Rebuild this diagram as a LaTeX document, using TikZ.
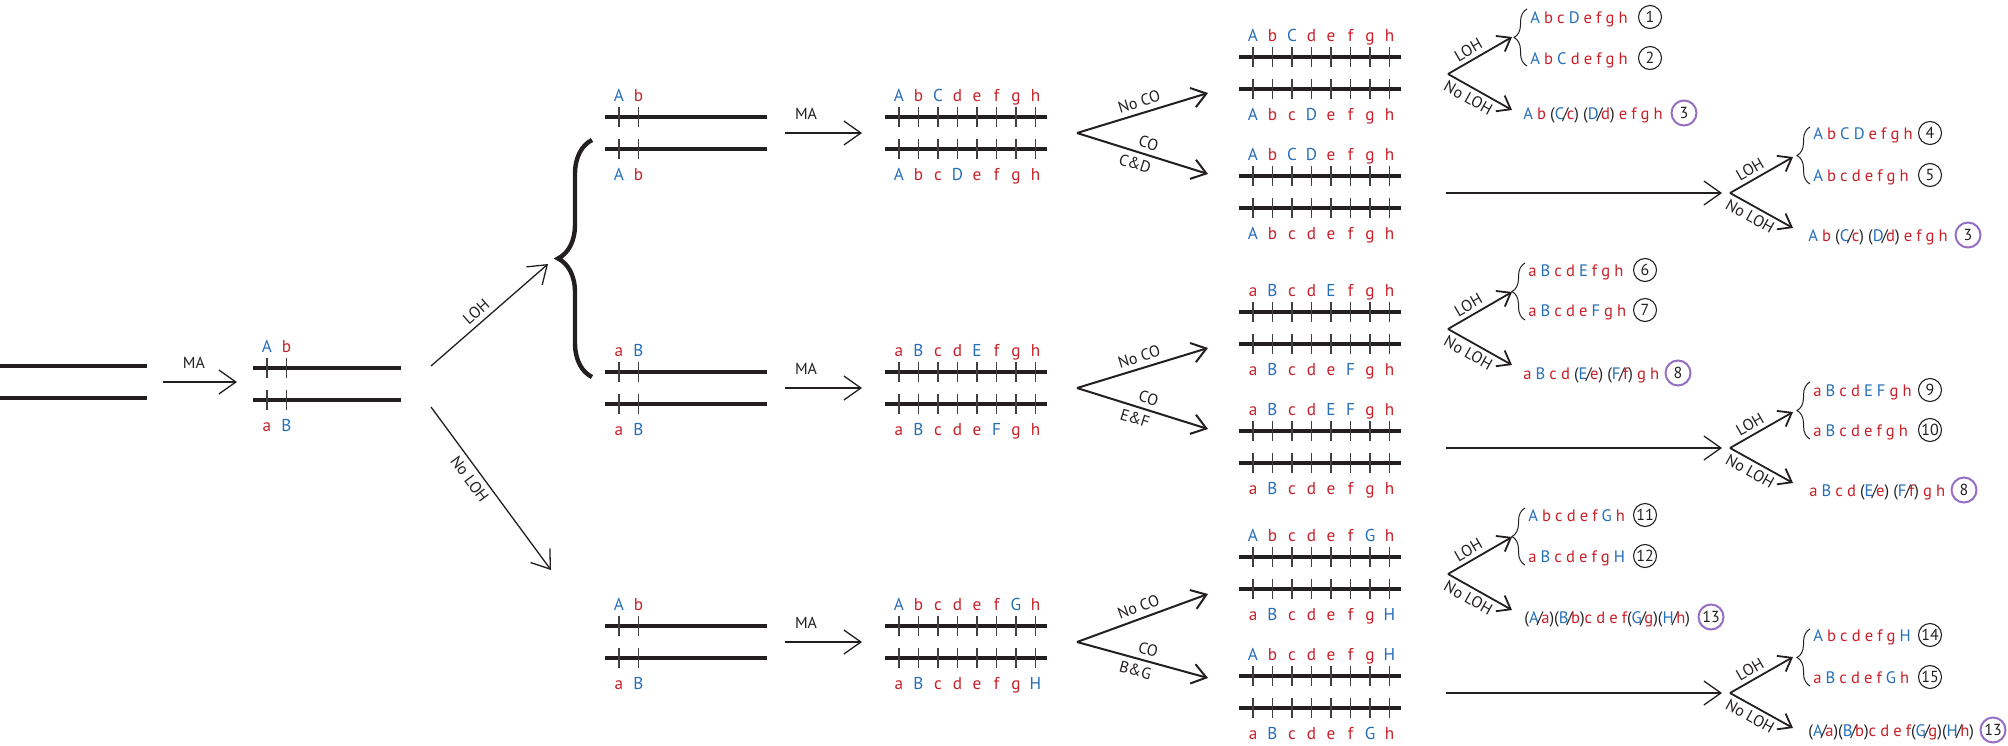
\documentclass[tikz,border=0pt]{standalone}
\usepackage{fontspec}
\setmainfont{PT Sans}
\usetikzlibrary{arrows.meta,decorations.pathreplacing}
\definecolor{myblue}{RGB}{36,110,186}
\definecolor{myred}{RGB}{200,32,40}
\definecolor{mypurple}{RGB}{150,110,195}
\definecolor{ink}{RGB}{35,31,32}
\newcommand\BL[1]{\textcolor{myblue}{#1}}
\newcommand\RD[1]{\textcolor{myred}{#1}}
\newcommand\SL[2]{\BL{#1}\kern-0.1em\textcolor{ink}{/}\kern-0.1em\RD{#2}}
\newcommand\resfont{\fontsize{8.3}{10}\selectfont\spaceskip 0.245em\relax}
\tikzset{
 chr/.style={line width=1.6pt, draw=ink},
 tck/.style={line width=0.6pt, draw=black!75},
 lab/.style={anchor=base, inner sep=0pt, font=\fontsize{8.6}{10}\selectfont},
 res/.style={anchor=base west, inner sep=0pt, font=\resfont, text=ink},
 tag/.style={circle, draw=ink, line width=0.55pt, minimum size=11.5pt, inner sep=0pt, font=\fontsize{8}{9}\selectfont, text=ink},
 ptag/.style={tag, draw=mypurple, line width=1pt, minimum size=12.5pt},
 arr/.style={-{Straight Barb[length=8.5pt,width=12pt]}, line width=0.65pt, draw=ink},
 farr/.style={-{Straight Barb[length=7pt,width=10pt]}, line width=1pt, draw=ink},
 sarr/.style={-{Straight Barb[length=6pt,width=9pt]}, line width=0.9pt, draw=ink},
 small/.style={font=\fontsize{8}{9}\selectfont, inner sep=1.5pt, text=ink},
 sbrace/.style={decorate, decoration={brace, amplitude=6.5pt}, line width=0.5pt, draw=ink},
}
% #1 name, #2 x, #3 y of upper line, #4 length, #5 top labels, #6 bottom labels
\newcommand\chromo[6]{%
  \coordinate (#1-ul) at (#2,#3);
  \coordinate (#1-ur) at ({#2+#4},#3);
  \coordinate (#1-ll) at (#2,{#3+32});
  \coordinate (#1-lr) at ({#2+#4},{#3+32});
  \draw[chr] (#1-ul) -- (#1-ur);
  \draw[chr] (#1-ll) -- (#1-lr);
  \foreach \l/\c [count=\i from 0] in {#5} {
    \draw[tck] ({#2+14+19.5*\i},{#3-10}) -- ++(0,20);
    \node[lab,text=\c] (#1-t\i) at ({#2+14+19.5*\i},{#3-16}) {\l};
  }
  \foreach \l/\c [count=\i from 0] in {#6} {
    \draw[tck] ({#2+14+19.5*\i},{#3+22}) -- ++(0,20);
    \node[lab,text=\c] (#1-b\i) at ({#2+14+19.5*\i},{#3+63}) {\l};
  }
}
\begin{document}
\begin{tikzpicture}[x=0.5pt,y=-0.5pt]
\useasboundingbox (0,0) rectangle (2008,745);
%% start
\coordinate (s0a) at (0,366); \coordinate (s0b) at (147,366);
\coordinate (s0c) at (0,398); \coordinate (s0d) at (147,398);
\draw[chr] (s0a) -- (s0b); \draw[chr] (s0c) -- (s0d);
\coordinate (ma0s) at (163,382); \coordinate (ma0e) at (237,382);
\draw[arr] (ma0s) -- (ma0e);
\node[small] (ma0) at (194,363) {MA};
\chromo{p0}{253}{368}{148}{A/myblue,b/myred}{a/myred,B/myblue}
%% LOH / No LOH
\coordinate (L0) at (431,366); \coordinate (L1) at (548,264);
\draw[arr] (L0) -- node[small,sloped,above=1pt,pos=.45] (lloh) {LOH} (L1);
\coordinate (N0) at (431,407); \coordinate (N1) at (551,570);
\draw[arr] (N0) -- node[small,sloped,below=1pt,pos=.4] (lnloh) {No LOH} (N1);
\coordinate (bb1) at (592,377); \coordinate (bb2) at (592,140);
\draw[line width=2.2pt, draw=ink, decorate, decoration={brace, amplitude=17pt}] (bb1) -- (bb2);

%% ================= ROW 1
\chromo{p1}{605}{117}{162}{A/myblue,b/myred}{A/myblue,b/myred}
\coordinate (ma1s) at (785,133); \coordinate (ma1e) at (862,133);
\draw[arr] (ma1s) -- (ma1e); \node[small] (ma1) at (806,114) {MA};
\chromo{m1}{885}{117}{162}{A/myblue,b/myred,C/myblue,d/myred,e/myred,f/myred,g/myred,h/myred}{A/myblue,b/myred,c/myred,D/myblue,e/myred,f/myred,g/myred,h/myred}
\coordinate (f1) at (1077,133); \coordinate (f1u) at (1208,93); \coordinate (f1d) at (1208,174);
\draw[farr] (f1) -- node[small,sloped,above=1pt,pos=.5] (nco1) {No CO} (f1u);
\draw[farr] (f1) -- node[small,sloped,above=1pt,pos=.52] (co1) {CO} node[small,sloped,below=1pt,pos=.47] (cd1) {C\&D} (f1d);
\chromo{n1}{1239}{57}{162}{A/myblue,b/myred,C/myblue,d/myred,e/myred,f/myred,g/myred,h/myred}{A/myblue,b/myred,c/myred,D/myblue,e/myred,f/myred,g/myred,h/myred}
\chromo{c1}{1239}{176}{162}{A/myblue,b/myred,C/myblue,D/myblue,e/myred,f/myred,g/myred,h/myred}{A/myblue,b/myred,c/myred,d/myred,e/myred,f/myred,g/myred,h/myred}
\coordinate (g1) at (1448,74); \coordinate (g1u) at (1512,37); \coordinate (g1d) at (1512,110);
\draw[sarr] (g1) -- node[small,sloped,above=0.5pt,pos=.4] (gl1) {LOH} (g1u);
\draw[sarr] (g1) -- node[small,sloped,below=0.5pt,pos=.4] (gn1) {No LOH} (g1d);
\coordinate (br1a) at (1527,66); \coordinate (br1b) at (1527,9);
\draw[sbrace] (br1a) -- (br1b);
\node[res] (r1) at (1530,23) {\BL{A} \RD{b c} \BL{D} \RD{e f g h}};
\node[tag] (k1) at (1650,17) {1};
\node[res] (r2) at (1530,64) {\BL{A} \RD{b} \BL{C} \RD{d e f g h}};
\node[tag] (k2) at (1650,58) {2};
\node[res] (r3) at (1523,119) {\BL{A} \RD{b} (\SL{C}{c}) (\SL{D}{d}) \RD{e f g h}};
\node[ptag] (k3) at (1684,113) {3};
\coordinate (h1s) at (1446,193); \coordinate (h1e) at (1722,193);
\draw[arr] (h1s) -- (h1e);
\coordinate (q1) at (1730,193); \coordinate (q1u) at (1793,157); \coordinate (q1d) at (1793,228);
\draw[sarr] (q1) -- node[small,sloped,above=0.5pt,pos=.4] (ql1) {LOH} (q1u);
\draw[sarr] (q1) -- node[small,sloped,below=0.5pt,pos=.4] (qn1) {No LOH} (q1d);
\coordinate (bq1a) at (1810,184); \coordinate (bq1b) at (1810,127);
\draw[sbrace] (bq1a) -- (bq1b);
\node[res] (r4) at (1813,139) {\BL{A} \RD{b} \BL{C D} \RD{e f g h}};
\node[tag] (k4) at (1930,133) {4};
\node[res] (r5) at (1813,181) {\BL{A} \RD{b c d e f g h}};
\node[tag] (k5) at (1930,175) {5};
\node[res] (r3b) at (1808,241) {\BL{A} \RD{b} (\SL{C}{c}) (\SL{D}{d}) \RD{e f g h}};
\node[ptag] (k3b) at (1968,235) {3};

%% ================= ROW 2
\chromo{p2}{605}{372}{162}{a/myred,B/myblue}{a/myred,B/myblue}
\coordinate (ma2s) at (785,388); \coordinate (ma2e) at (862,388);
\draw[arr] (ma2s) -- (ma2e); \node[small] (ma2) at (806,369) {MA};
\chromo{m2}{885}{372}{162}{a/myred,B/myblue,c/myred,d/myred,E/myblue,f/myred,g/myred,h/myred}{a/myred,B/myblue,c/myred,d/myred,e/myred,F/myblue,g/myred,h/myred}
\coordinate (f2) at (1077,388); \coordinate (f2u) at (1208,348); \coordinate (f2d) at (1208,429);
\draw[farr] (f2) -- node[small,sloped,above=1pt,pos=.5] (nco2) {No CO} (f2u);
\draw[farr] (f2) -- node[small,sloped,above=1pt,pos=.52] (co2) {CO} node[small,sloped,below=1pt,pos=.47] (cd2) {E\&F} (f2d);
\chromo{n2}{1239}{312}{162}{a/myred,B/myblue,c/myred,d/myred,E/myblue,f/myred,g/myred,h/myred}{a/myred,B/myblue,c/myred,d/myred,e/myred,F/myblue,g/myred,h/myred}
\chromo{c2}{1239}{431}{162}{a/myred,B/myblue,c/myred,d/myred,E/myblue,F/myblue,g/myred,h/myred}{a/myred,B/myblue,c/myred,d/myred,e/myred,f/myred,g/myred,h/myred}
\coordinate (g2) at (1448,329); \coordinate (g2u) at (1512,292); \coordinate (g2d) at (1512,365);
\draw[sarr] (g2) -- node[small,sloped,above=0.5pt,pos=.4] (gl2) {LOH} (g2u);
\draw[sarr] (g2) -- node[small,sloped,below=0.5pt,pos=.4] (gn2) {No LOH} (g2d);
\coordinate (br2a) at (1525,320); \coordinate (br2b) at (1525,263);
\draw[sbrace] (br2a) -- (br2b);
\node[res] (r6) at (1528,276) {\RD{a} \BL{B} \RD{c d} \BL{E} \RD{f g h}};
\node[tag] (k6) at (1645,270) {6};
\node[res] (r7) at (1528,316) {\RD{a} \BL{B} \RD{c d e} \BL{F} \RD{g h}};
\node[tag] (k7) at (1645,310) {7};
\node[res] (r8) at (1523,379) {\RD{a} \BL{B} \RD{c d} (\SL{E}{e}) (\SL{F}{f}) \RD{g h}};
\node[ptag] (k8) at (1678,373) {8};
\coordinate (h2s) at (1446,448); \coordinate (h2e) at (1722,448);
\draw[arr] (h2s) -- (h2e);
\coordinate (q2) at (1730,448); \coordinate (q2u) at (1793,412); \coordinate (q2d) at (1793,483);
\draw[sarr] (q2) -- node[small,sloped,above=0.5pt,pos=.4] (ql2) {LOH} (q2u);
\draw[sarr] (q2) -- node[small,sloped,below=0.5pt,pos=.4] (qn2) {No LOH} (q2d);
\coordinate (bq2a) at (1810,439); \coordinate (bq2b) at (1810,382);
\draw[sbrace] (bq2a) -- (bq2b);
\node[res] (r9) at (1813,396) {\RD{a} \BL{B} \RD{c d} \BL{E F} \RD{g h}};
\node[tag] (k9) at (1930,390) {9};
\node[res] (r10) at (1813,436) {\RD{a} \BL{B} \RD{c d e f g h}};
\node[tag] (k10) at (1930,430) {10};
\node[res] (r8b) at (1809,496) {\RD{a} \BL{B} \RD{c d} (\SL{E}{e}) (\SL{F}{f}) \RD{g h}};
\node[ptag] (k8b) at (1964,490) {8};

%% ================= ROW 3
\chromo{p3}{605}{626}{162}{A/myblue,b/myred}{a/myred,B/myblue}
\coordinate (ma3s) at (785,642); \coordinate (ma3e) at (862,642);
\draw[arr] (ma3s) -- (ma3e); \node[small] (ma3) at (806,623) {MA};
\chromo{m3}{885}{626}{162}{A/myblue,b/myred,c/myred,d/myred,e/myred,f/myred,G/myblue,h/myred}{a/myred,B/myblue,c/myred,d/myred,e/myred,f/myred,g/myred,H/myblue}
\coordinate (f3) at (1077,642); \coordinate (f3u) at (1208,594); \coordinate (f3d) at (1208,678);
\draw[farr] (f3) -- node[small,sloped,above=1pt,pos=.5] (nco3) {No CO} (f3u);
\draw[farr] (f3) -- node[small,sloped,above=1pt,pos=.52] (co3) {CO} node[small,sloped,below=1pt,pos=.47] (cd3) {B\&G} (f3d);
\chromo{n3}{1239}{557}{162}{A/myblue,b/myred,c/myred,d/myred,e/myred,f/myred,G/myblue,h/myred}{a/myred,B/myblue,c/myred,d/myred,e/myred,f/myred,g/myred,H/myblue}
\chromo{c3}{1239}{676}{162}{A/myblue,b/myred,c/myred,d/myred,e/myred,f/myred,g/myred,H/myblue}{a/myred,B/myblue,c/myred,d/myred,e/myred,f/myred,G/myblue,h/myred}
\coordinate (g3) at (1448,574); \coordinate (g3u) at (1512,537); \coordinate (g3d) at (1512,610);
\draw[sarr] (g3) -- node[small,sloped,above=0.5pt,pos=.4] (gl3) {LOH} (g3u);
\draw[sarr] (g3) -- node[small,sloped,below=0.5pt,pos=.4] (gn3) {No LOH} (g3d);
\coordinate (br3a) at (1525,565); \coordinate (br3b) at (1525,508);
\draw[sbrace] (br3a) -- (br3b);
\node[res] (r11) at (1528,521) {\BL{A} \RD{b c d e f} \BL{G} \RD{h}};
\node[tag] (k11) at (1645,515) {11};
\node[res] (r12) at (1528,562) {\RD{a} \BL{B} \RD{c d e f g} \BL{H}};
\node[tag] (k12) at (1645,556) {12};
\node[res] (r13) at (1524,623) {(\SL{A}{a})(\SL{B}{b})\RD{c d e f}(\SL{G}{g})(\SL{H}{h})};
\node[ptag] (k13) at (1711,617) {13};
\coordinate (h3s) at (1446,693); \coordinate (h3e) at (1722,693);
\draw[arr] (h3s) -- (h3e);
\coordinate (q3) at (1730,693); \coordinate (q3u) at (1793,657); \coordinate (q3d) at (1793,728);
\draw[sarr] (q3) -- node[small,sloped,above=0.5pt,pos=.4] (ql3) {LOH} (q3u);
\draw[sarr] (q3) -- node[small,sloped,below=0.5pt,pos=.4] (qn3) {No LOH} (q3d);
\coordinate (bq3a) at (1810,686); \coordinate (bq3b) at (1810,629);
\draw[sbrace] (bq3a) -- (bq3b);
\node[res] (r14) at (1813,641) {\BL{A} \RD{b c d e f g} \BL{H}};
\node[tag] (k14) at (1930,635) {14};
\node[res] (r15) at (1813,683) {\RD{a} \BL{B} \RD{c d e f} \BL{G} \RD{h}};
\node[tag] (k15) at (1930,677) {15};
\node[res] (r13b) at (1808,736) {(\SL{A}{a})(\SL{B}{b})\RD{c d e f}(\SL{G}{g})(\SL{H}{h})};
\node[ptag] (k13b) at (1993,730) {13};
\end{tikzpicture}
\end{document}
